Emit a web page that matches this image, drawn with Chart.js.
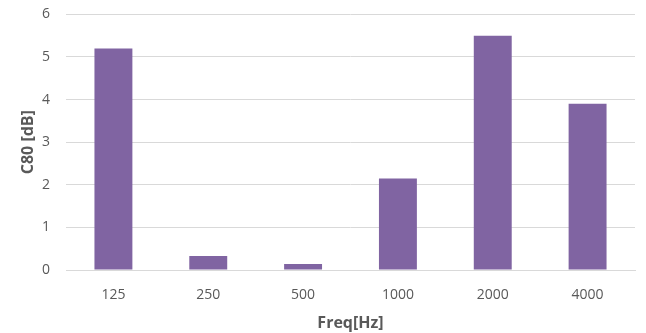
<!DOCTYPE html>
<html>
<head>
<meta charset="utf-8">
<script src="https://cdn.jsdelivr.net/npm/chart.js@4"></script>
<style>
  html, body { margin: 0; padding: 0; background: #fff; overflow: hidden; }
  #wrap { position: relative; top: -10px; width: 646px; height: 343px; }
</style>
</head>
<body>
<div id="wrap"><canvas id="c80Chart"></canvas></div>
<script>
var freqLabels = ['125', '250', '500', '1000', '2000', '4000'];
var c80Values = [5.2, 0.33, 0.14, 2.15, 5.5, 3.9];
var yTicks = [0, 1, 2, 3, 4, 5, 6];

var textColor = '#595959';
var fontFamily = "'Open Sans', 'Liberation Sans', sans-serif";

const dt = {
    labels: freqLabels,
    datasets: [{
        label: 'C80 [dB]',
        data: c80Values,
        backgroundColor: '#8064A2',
        barPercentage: 0.4,
        categoryPercentage: 1.0
    }]
};

const config_c80 = {
    type: 'bar',
    data: dt,
    options: {
        responsive: true,
        maintainAspectRatio: false,
        animation: false,
        layout: { padding: { left: 19, right: 11, top: 0, bottom: 0 } },
        plugins: {
            legend: { display: false },
            tooltip: { enabled: false }
        },
        scales: {
            x: {
                grid: { display: false },
                border: { color: '#d9d9d9' },
                ticks: { color: textColor, font: { family: fontFamily, size: 14 }, padding: 9 },
                title: {
                    display: true,
                    text: 'Freq[Hz]',
                    color: textColor,
                    font: { family: fontFamily, size: 16, weight: 'bold' },
                    padding: { top: 1, bottom: 0 }
                }
            },
            y: {
                min: 0,
                max: 6,
                afterBuildTicks: function(axis) {
                    axis.ticks = yTicks.map(function(v) { return { value: v }; });
                },
                afterFit: function(axis) {
                    axis.width = 47;
                },
                grid: { color: '#d9d9d9', drawTicks: false },
                border: { display: false },
                ticks: { color: textColor, font: { family: fontFamily, size: 14 }, padding: 16 },
                title: {
                    display: true,
                    text: 'C80 [dB]',
                    color: textColor,
                    font: { family: fontFamily, size: 16, weight: 'bold' },
                    padding: { top: 0, bottom: 0 }
                }
            }
        }
    }
};

const c80Chart = new Chart(document.getElementById('c80Chart'), config_c80);
</script>
</body>
</html>
